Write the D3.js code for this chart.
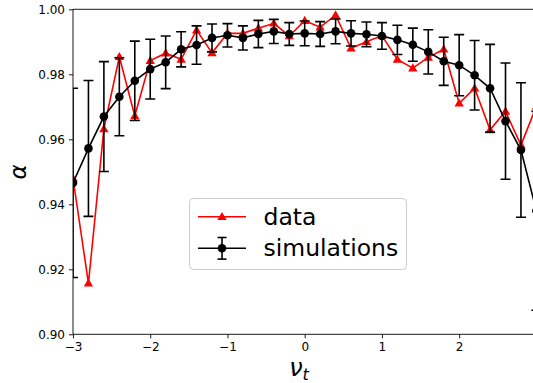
<!DOCTYPE html>
<html>
<head>
<meta charset="utf-8">
<script src="https://cdn.jsdelivr.net/npm/d3@7"></script>
<style>
  html, body { margin: 0; padding: 0; background: #fff; overflow: hidden; }
  svg { display: block; font-family: "DejaVu Sans", sans-serif; }
</style>
</head>
<body>
<svg id="chart" width="533" height="383"></svg>
<script>
// values
const nu = [-3.0, -2.8, -2.6, -2.4, -2.2, -2.0, -1.8, -1.6, -1.4, -1.2, -1.0,
            -0.8, -0.6, -0.4, -0.2, 0.0, 0.2, 0.4, 0.6, 0.8, 1.0,
            1.2, 1.4, 1.6, 1.8, 2.0, 2.2, 2.4, 2.6, 2.8, 3.0];

const dataAlpha = [0.9480, 0.9157, 0.9632, 0.9854, 0.9672, 0.9842, 0.9865, 0.9846, 0.9936, 0.9866, 0.9926,
                   0.9926, 0.9942, 0.9957, 0.9918, 0.9965, 0.9945, 0.9982, 0.9880, 0.9900, 0.9919,
                   0.9846, 0.9819, 0.9852, 0.9877, 0.9711, 0.9757, 0.9629, 0.9686, 0.9582, 0.9702];

const simAlpha = [0.9466, 0.9572, 0.9670, 0.9731, 0.9780, 0.9816, 0.9837, 0.9877, 0.9890, 0.9912, 0.9920,
                  0.9912, 0.9924, 0.9932, 0.9924, 0.9926, 0.9924, 0.9932, 0.9926, 0.9923, 0.9918,
                  0.9906, 0.9891, 0.9869, 0.9840, 0.9828, 0.9797, 0.9757, 0.9656, 0.9567, 0.9380];

const simErr = [0.0291, 0.0209, 0.0169, 0.0120, 0.0122, 0.0092, 0.0081, 0.0054, 0.0059, 0.0043, 0.0036,
                0.0037, 0.0042, 0.0037, 0.0035, 0.0038, 0.0038, 0.0038, 0.0039, 0.0038, 0.0041,
                0.0045, 0.0051, 0.0068, 0.0074, 0.0094, 0.0107, 0.0135, 0.0179, 0.0207, 0.0306];

const xTicks = [-3, -2, -1, 0, 1, 2, 3];
const yTicks = [0.90, 0.92, 0.94, 0.96, 0.98, 1.00];
const legendLabels = ["data", "simulations"];

const svg = d3.select("#chart");

// plot box (right spine falls just outside the picture)
const boxL = 73, boxR = 536.4, boxT = 9.3, boxB = 334.3;

const x = d3.scaleLinear().domain([-3, 3]).range([boxL, boxR]);
const y = d3.scaleLinear().domain([0.90, 1.00]).range([boxB, boxT]);

svg.append("clipPath").attr("id", "plotclip")
  .append("rect")
  .attr("x", boxL).attr("y", boxT)
  .attr("width", boxR - boxL).attr("height", boxB - boxT);

// axes
const fmtX = d => d3.format("d")(d).replace("-", "\u2212");

const xAxis = svg.append("g")
  .attr("transform", `translate(0,${boxB})`)
  .call(d3.axisBottom(x).tickValues(xTicks).tickFormat(fmtX).tickSize(4).tickPadding(4));

const yAxis = svg.append("g")
  .attr("transform", `translate(${boxL},0)`)
  .call(d3.axisLeft(y).tickValues(yTicks).tickFormat(d3.format(".2f")).tickSize(4).tickPadding(4));

[xAxis, yAxis].forEach(a => {
  a.select(".domain").remove();
  a.selectAll("line").attr("stroke", "#000").attr("stroke-width", 0.9);
  a.selectAll("text")
    .attr("fill", "#000")
    .attr("font-size", 12)
    .attr("font-family", "DejaVu Sans, sans-serif");
});

// spines
[[boxL, boxB, boxR, boxB], [boxL, boxT, boxR, boxT], [boxL, boxT, boxL, boxB], [boxR, boxT, boxR, boxB]]
  .forEach(s => {
    svg.append("line")
      .attr("x1", s[0]).attr("y1", s[1]).attr("x2", s[2]).attr("y2", s[3])
      .attr("stroke", "#000").attr("stroke-width", 0.9);
  });

const plot = svg.append("g").attr("clip-path", "url(#plotclip)");

const tri = d3.symbol().type(d3.symbolTriangle).size(38);

// data series (red, triangles)
const dataPts = nu.map((v, i) => ({ nu: v, a: dataAlpha[i] }));

plot.append("path")
  .datum(dataPts)
  .attr("d", d3.line().x(d => x(d.nu)).y(d => y(d.a)))
  .attr("fill", "none")
  .attr("stroke", "#ff0000")
  .attr("stroke-width", 1.6);

plot.selectAll(".tri")
  .data(dataPts)
  .join("path")
  .attr("class", "tri")
  .attr("d", tri)
  .attr("transform", d => `translate(${x(d.nu)},${y(d.a) + 0.6})`)
  .attr("fill", "#ff0000");

// simulations (black, circles with error bars)
const simPts = nu.map((v, i) => ({ nu: v, a: simAlpha[i], e: simErr[i] }));
const cap = 5;

const bars = plot.selectAll(".err")
  .data(simPts)
  .join("g")
  .attr("class", "err")
  .attr("stroke", "#000")
  .attr("stroke-width", 1.6);

bars.append("line")
  .attr("x1", d => x(d.nu)).attr("x2", d => x(d.nu))
  .attr("y1", d => y(d.a - d.e)).attr("y2", d => y(d.a + d.e));
bars.append("line")
  .attr("x1", d => x(d.nu) - cap).attr("x2", d => x(d.nu) + cap)
  .attr("y1", d => y(d.a + d.e)).attr("y2", d => y(d.a + d.e));
bars.append("line")
  .attr("x1", d => x(d.nu) - cap).attr("x2", d => x(d.nu) + cap)
  .attr("y1", d => y(d.a - d.e)).attr("y2", d => y(d.a - d.e));

plot.append("path")
  .datum(simPts)
  .attr("d", d3.line().x(d => x(d.nu)).y(d => y(d.a)))
  .attr("fill", "none")
  .attr("stroke", "#000")
  .attr("stroke-width", 1.6);

plot.selectAll(".dot")
  .data(simPts)
  .join("circle")
  .attr("class", "dot")
  .attr("cx", d => x(d.nu))
  .attr("cy", d => y(d.a))
  .attr("r", 4.3)
  .attr("fill", "#000");

// axis labels
svg.append("text")
  .attr("transform", "translate(26,172) rotate(-90)")
  .attr("text-anchor", "middle")
  .attr("font-size", 23)
  .attr("font-style", "italic")
  .text("\u03b1");

const xl = svg.append("text")
  .attr("x", 299)
  .attr("y", 376)
  .attr("text-anchor", "middle")
  .attr("font-size", 24)
  .attr("font-style", "italic");
xl.append("tspan").text("\u03bd");
xl.append("tspan").attr("font-size", 16).attr("dy", 4).text("t");

// legend
const lg = svg.append("g");
lg.append("rect")
  .attr("x", 189.5).attr("y", 198.5)
  .attr("width", 217).attr("height", 71)
  .attr("rx", 4)
  .attr("fill", "#fff").attr("fill-opacity", 0.8)
  .attr("stroke", "#cccccc").attr("stroke-width", 1);

const rows = [
  { label: legendLabels[0], yy: 216.7, color: "#ff0000" },
  { label: legendLabels[1], yy: 248.3, color: "#000" }
];

rows.forEach((r, i) => {
  lg.append("line")
    .attr("x1", 198).attr("x2", 246)
    .attr("y1", r.yy).attr("y2", r.yy)
    .attr("stroke", r.color).attr("stroke-width", 1.6);
  if (i === 0) {
    lg.append("path").attr("d", tri)
      .attr("transform", `translate(222,${r.yy + 0.6})`)
      .attr("fill", r.color);
  } else {
    lg.append("line").attr("x1", 222).attr("x2", 222)
      .attr("y1", r.yy - 10.8).attr("y2", r.yy + 10.8)
      .attr("stroke", "#000").attr("stroke-width", 1.6);
    [-10.8, 10.8].forEach(o => {
      lg.append("line").attr("x1", 217.5).attr("x2", 226.5)
        .attr("y1", r.yy + o).attr("y2", r.yy + o)
        .attr("stroke", "#000").attr("stroke-width", 1.6);
    });
    lg.append("circle").attr("cx", 222).attr("cy", r.yy).attr("r", 4.3).attr("fill", "#000");
  }
  lg.append("text")
    .attr("x", 263.5)
    .attr("y", r.yy + 8)
    .attr("font-size", 23.5)
    .attr("fill", "#000")
    .text(r.label);
});
</script>
</body>
</html>
